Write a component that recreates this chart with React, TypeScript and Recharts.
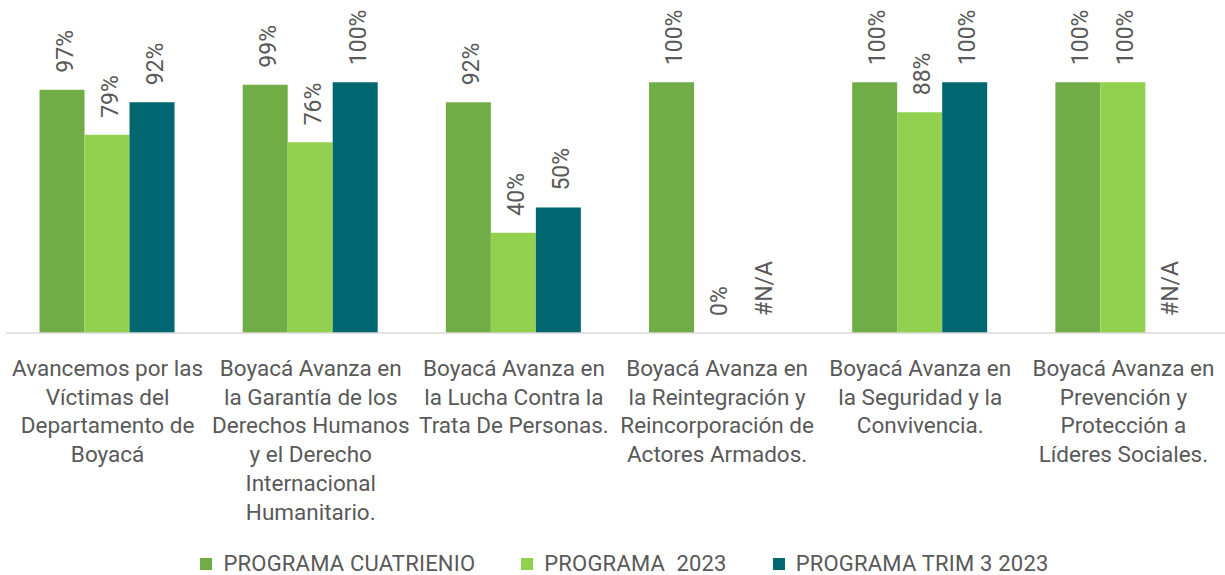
import { BarChart, Bar, XAxis, YAxis, Legend, LabelList } from 'recharts'

const categories = [
  'Avancemos por las\nVíctimas del\nDepartamento de\nBoyacá',
  'Boyacá Avanza en\nla Garantía de los\nDerechos Humanos\ny el Derecho\nInternacional\nHumanitario.',
  'Boyacá Avanza en\nla Lucha Contra la\nTrata De Personas.',
  'Boyacá Avanza en\nla Reintegración y\nReincorporación de\nActores Armados.',
  'Boyacá Avanza en\nla Seguridad y la\nConvivencia.',
  'Boyacá Avanza en\nPrevención y\nProtección a\nLíderes Sociales.',
]

// null = #N/A in the source sheet
const cuatrienio: (number | null)[] = [97, 99, 92, 100, 100, 100]
const anio2023: (number | null)[] = [79, 76, 40, 0, 88, 100]
const trim3: (number | null)[] = [92, 100, 50, null, 100, null]

const seriesNames = ['PROGRAMA CUATRIENIO', 'PROGRAMA  2023', 'PROGRAMA TRIM 3 2023']
const colors = ['#70AD47', '#92D050', '#00666F']

const fmt = (v: number | null) => (v === null ? '#N/A' : `${v}%`)

const data = categories.map((name, i) => ({
  name,
  c: cuatrienio[i] ?? 0,
  p: anio2023[i] ?? 0,
  t: trim3[i] ?? 0,
  cLabel: fmt(cuatrienio[i]),
  pLabel: fmt(anio2023[i]),
  tLabel: fmt(trim3[i]),
}))

const FONT = 'Roboto, "Noto Sans", sans-serif'
const TEXT = '#595959'

const ValueLabel = (props: any) => {
  const { x, y, width, value } = props
  const cx = x + width / 2 + 10.5
  const cy = y - 17
  return (
    <text
      x={cx}
      y={cy}
      transform={`rotate(-90, ${cx}, ${cy})`}
      textAnchor="start"
      fontSize={23}
      fontFamily={FONT}
      fill={TEXT}
    >
      {value}
    </text>
  )
}

const CategoryTick = (props: any) => {
  const { x, y, payload } = props
  const lines = String(payload.value).split('\n')
  return (
    <text x={x} y={y} textAnchor="middle" fontSize={22.5} fontFamily={FONT} fill={TEXT}>
      {lines.map((l, i) => (
        <tspan key={i} x={x} dy={i === 0 ? 35 : 28.7}>
          {l}
        </tspan>
      ))}
    </text>
  )
}

const CustomLegend = () => (
  <div
    style={{
      display: 'flex',
      justifyContent: 'center',
      alignItems: 'center',
      gap: 46,
      paddingLeft: 18,
      paddingTop: 12,
      fontFamily: FONT,
      fontSize: 22,
      color: TEXT,
    }}
  >
    {seriesNames.map((s, i) => (
      <div key={s} style={{ display: 'flex', alignItems: 'center' }}>
        <span style={{ width: 12, height: 12, background: colors[i], marginRight: 11, display: 'inline-block' }} />
        <span style={{ whiteSpace: 'pre', letterSpacing: 0.2 }}>{s}</span>
      </div>
    ))}
  </div>
)

export default function App() {
  return (
    <div style={{ width: 1225, height: 575, background: '#fff' }}>
      <style>{`body{margin:0}`}</style>
      <BarChart
        width={1225}
        height={575}
        data={data}
        margin={{ top: 32, right: 0, left: 6, bottom: 0 }}
        barCategoryGap="16.5%"
        barGap={0}
      >
        <XAxis
          dataKey="name"
          interval={0}
          height={206}
          tickLine={false}
          axisLine={{ stroke: '#D9D9D9', strokeWidth: 1.5 }}
          tick={<CategoryTick />}
        />
        <YAxis hide domain={[0, 120]} />
        <Legend verticalAlign="bottom" height={36} content={<CustomLegend />} />
        <Bar dataKey="c" name={seriesNames[0]} fill={colors[0]} minPointSize={0.001} isAnimationActive={false}>
          <LabelList dataKey="cLabel" content={<ValueLabel />} />
        </Bar>
        <Bar dataKey="p" name={seriesNames[1]} fill={colors[1]} minPointSize={0.001} isAnimationActive={false}>
          <LabelList dataKey="pLabel" content={<ValueLabel />} />
        </Bar>
        <Bar dataKey="t" name={seriesNames[2]} fill={colors[2]} minPointSize={0.001} isAnimationActive={false}>
          <LabelList dataKey="tLabel" content={<ValueLabel />} />
        </Bar>
      </BarChart>
    </div>
  )
}
